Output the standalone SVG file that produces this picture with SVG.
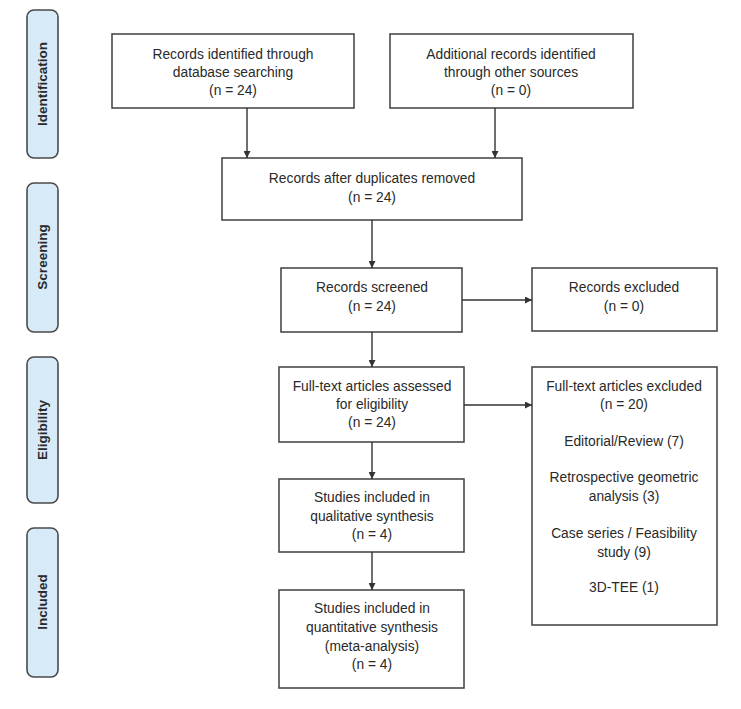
<svg xmlns="http://www.w3.org/2000/svg" width="741" height="709" viewBox="0 0 741 709">
<defs>
<marker id="ah" viewBox="0 0 10 10" refX="10" refY="5" markerWidth="7" markerHeight="7" markerUnits="userSpaceOnUse" orient="auto">
<path d="M0,0 L10,5 L0,10 Z" fill="#333"/>
</marker>
</defs>
<style>
.box{fill:#fff;stroke:#4a4a4a;stroke-width:1.6}
.side{fill:#d6eaf8;stroke:#4a4a4a;stroke-width:1.6}
.t{font-family:"Liberation Sans",Arial,sans-serif;font-size:13.8px;fill:#2a2a2a;text-anchor:middle}
.st{font-family:"Liberation Sans",Arial,sans-serif;font-size:13.5px;font-weight:bold;fill:#2a2a2a;text-anchor:middle}
.c{stroke:#333;stroke-width:1.4;fill:none;marker-end:url(#ah)}
</style>
<rect width="741" height="709" fill="#fff"/>
<g id="side-identification"><rect class="side" x="27" y="10" width="31" height="148" rx="7"/><text class="st" transform="translate(47,84) rotate(-90)">Identification</text></g>
<g id="side-screening"><rect class="side" x="27" y="183" width="31" height="149" rx="7"/><text class="st" transform="translate(47,257) rotate(-90)">Screening</text></g>
<g id="side-eligibility"><rect class="side" x="27" y="357" width="31" height="146" rx="7"/><text class="st" transform="translate(47,430) rotate(-90)">Eligibility</text></g>
<g id="side-included"><rect class="side" x="27" y="528" width="31" height="149" rx="7"/><text class="st" transform="translate(47,602) rotate(-90)">Included</text></g>

<g id="n-db"><rect class="box" x="112" y="34" width="242" height="74"/>
<text class="t" x="233" y="59">Records identified through</text><text class="t" x="233" y="77">database searching</text><text class="t" x="233" y="95">(n = 24)</text></g>
<g id="n-other"><rect class="box" x="390" y="34" width="243" height="74"/>
<text class="t" x="511" y="59">Additional records identified</text><text class="t" x="511" y="77">through other sources</text><text class="t" x="511" y="95">(n = 0)</text></g>
<g id="n-dup"><rect class="box" x="222" y="158" width="300" height="62"/>
<text class="t" x="372" y="183">Records after duplicates removed</text><text class="t" x="372" y="202">(n = 24)</text></g>
<g id="n-screened"><rect class="box" x="281" y="268" width="181" height="64"/>
<text class="t" x="372" y="292">Records screened</text><text class="t" x="372" y="311">(n = 24)</text></g>
<g id="n-excluded"><rect class="box" x="532" y="268" width="185" height="63"/>
<text class="t" x="624" y="292">Records excluded</text><text class="t" x="624" y="311">(n = 0)</text></g>
<g id="n-fulltext"><rect class="box" x="279" y="367" width="185" height="75"/>
<text class="t" x="372" y="391">Full-text articles assessed</text><text class="t" x="372" y="409">for eligibility</text><text class="t" x="372" y="427">(n = 24)</text></g>
<g id="n-ftexcl"><rect class="box" x="532" y="367" width="185" height="258"/>
<text class="t" x="624" y="391">Full-text articles excluded</text><text class="t" x="624" y="409">(n = 20)</text>
<text class="t" x="624" y="446">Editorial/Review (7)</text>
<text class="t" x="624" y="482">Retrospective geometric</text><text class="t" x="624" y="501">analysis (3)</text>
<text class="t" x="624" y="538">Case series / Feasibility</text><text class="t" x="624" y="557">study (9)</text>
<text class="t" x="624" y="592">3D-TEE (1)</text></g>
<g id="n-qual"><rect class="box" x="279" y="479" width="185" height="73"/>
<text class="t" x="372" y="502">Studies included in</text><text class="t" x="372" y="521">qualitative synthesis</text><text class="t" x="372" y="539">(n = 4)</text></g>
<g id="n-quant"><rect class="box" x="279" y="590" width="185" height="98"/>
<text class="t" x="372" y="613">Studies included in</text><text class="t" x="372" y="632">quantitative synthesis</text><text class="t" x="372" y="651">(meta-analysis)</text><text class="t" x="372" y="669">(n = 4)</text></g>

<g id="connectors">
<line class="c" x1="247" y1="108" x2="247" y2="158"/>
<line class="c" x1="495" y1="108" x2="495" y2="158"/>
<line class="c" x1="372" y1="220" x2="372" y2="268"/>
<line class="c" x1="462" y1="300" x2="532" y2="300"/>
<line class="c" x1="372" y1="332" x2="372" y2="367"/>
<line class="c" x1="464" y1="405" x2="532" y2="405"/>
<line class="c" x1="372" y1="442" x2="372" y2="479"/>
<line class="c" x1="372" y1="552" x2="372" y2="590"/>
</g>
</svg>
